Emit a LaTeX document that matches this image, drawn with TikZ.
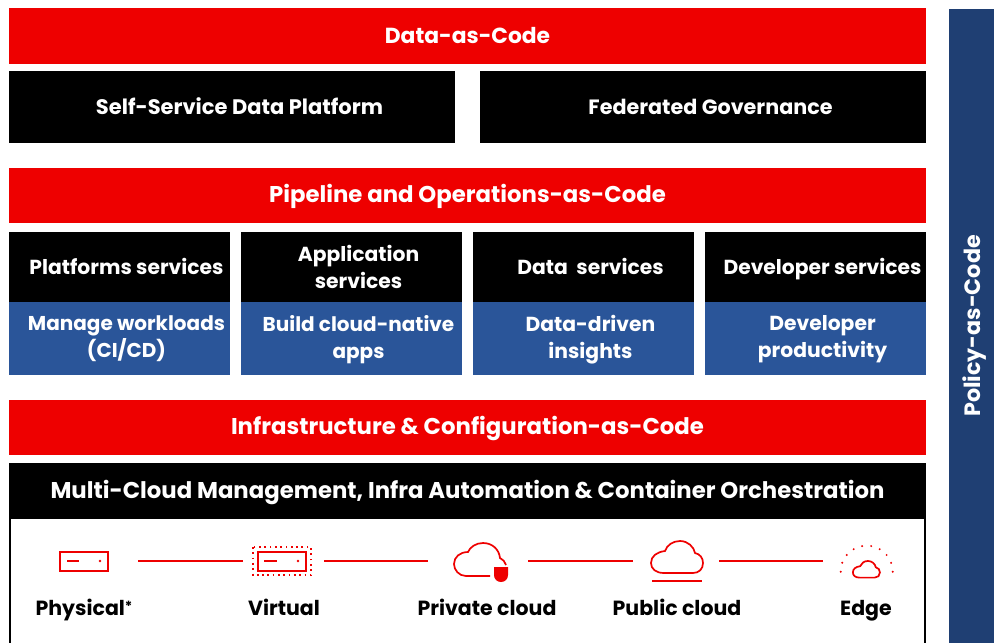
\documentclass[tikz,border=0pt]{standalone}
\usepackage{fontspec}
\setmainfont{Poppins}
\usepackage{xcolor}
\usetikzlibrary{positioning}
\definecolor{hatred}{HTML}{EE0000}
\definecolor{hatblue}{HTML}{2A5599}
\definecolor{hatnavy}{HTML}{1F3F73}
\newcommand{\hatfont}[1]{\fontsize{#1}{27}\selectfont\bfseries}
\tikzset{
  fixline/.style={text depth=#1,execute at begin node={\rule{0pt}{18pt}}},
  banner/.style={fill=#1,text=white,font=\hatfont{22.8},inner sep=0pt,outer sep=0pt,align=center,fixline=4pt},
  svcbox/.style={fill=#1,inner sep=0pt,outer sep=0pt,minimum width=221pt},
  svclabel/.style={text=white,font=\hatfont{20.3},inner sep=0pt,align=center,fixline=4pt},
  iconspot/.style={minimum width=#1,minimum height=20pt,inner sep=0pt,outer sep=0pt},
  iconlabel/.style={text=black,font=\hatfont{20.5},inner sep=0pt,fixline=4pt},
  iconline/.style={draw=hatred,line width=1.7pt},
  connector/.style={draw=hatred,line width=1.4pt},
  cloudicon/.pic={
    \draw[iconline] (-13,16) .. controls (-21,16) and (-26,12) .. (-26,6)
      .. controls (-26,-1) and (-20,-5) .. (-12,-6)
      .. controls (-10,-12) and (-4,-16) .. (3,-16)
      .. controls (11,-16) and (17,-10) .. (18,-4)
      .. controls (23,-3) and (26,1) .. (26,6)
      .. controls (26,12) and (22,16) .. (16,16) -- cycle;
  }
}
\begin{document}
\begin{tikzpicture}[x=1pt,y=-1pt]
   \useasboundingbox (0,0) rectangle (994,643);
   \node[banner=hatred,font=\hatfont{21.8},minimum width=917pt,minimum height=56pt,anchor=north west] (datacode) at (9,8) {Data-as-Code};
   \node[banner=black,font=\hatfont{21},minimum width=446pt,minimum height=72pt,below right=7pt and 0pt of datacode.south west] (selfservice) {\hspace*{15pt}Self-Service Data Platform};
   \node[banner=black,font=\hatfont{20.7},minimum width=446pt,minimum height=72pt,below left=7pt and 0pt of datacode.south east] (governance) {\hspace*{15pt}Federated Governance};
   \node[banner=hatred,minimum width=917pt,minimum height=55pt,anchor=north west] (pipeline) at (9,168) {Pipeline and Operations-as-Code};

   \node[svcbox=black,minimum height=70pt,anchor=north west] (platforms) at (9,232) {};
   \node[svcbox=black,minimum height=70pt,right=11pt of platforms] (application) {};
   \node[svcbox=black,minimum height=70pt,right=11pt of application] (dataserv) {};
   \node[svcbox=black,minimum height=70pt,right=11pt of dataserv] (developer) {};
   \node[svcbox=hatblue,minimum height=73pt,below=0pt of platforms] (workloads) {};
   \node[svcbox=hatblue,minimum height=73pt,below=0pt of application] (cloudnative) {};
   \node[svcbox=hatblue,minimum height=73pt,below=0pt of dataserv] (insights) {};
   \node[svcbox=hatblue,minimum height=73pt,below=0pt of developer] (productivity) {};

   \node[svclabel] (platformstext) at ([xshift=7pt]platforms.center) {Platforms services};
   \node[svclabel] (applicationtext) at ([xshift=7pt,yshift=-2pt]application.center) {Application\\services};
   \node[svclabel] (dataservtext) at ([xshift=7pt]dataserv.center) {Data\ \ services};
   \node[svclabel] (developertext) at ([xshift=7pt]developer.center) {Developer services};
   \node[svclabel,font=\hatfont{20}] (workloadstext) at ([xshift=7pt]workloads.center) {Manage workloads\\(CI/CD)};
   \node[svclabel,font=\hatfont{20}] (cloudnativetext) at ([xshift=7pt]cloudnative.center) {Build cloud-native\\apps};
   \node[svclabel] (insightstext) at ([xshift=7pt]insights.center) {Data-driven\\insights};
   \node[svclabel] (productivitytext) at ([xshift=7pt]productivity.center) {Developer\\productivity};

   \node[banner=hatred,minimum width=917pt,minimum height=55pt,anchor=north west] (infra) at (9,400) {Infrastructure \& Configuration-as-Code};
   \node[banner=black,minimum width=917pt,minimum height=56pt,below=8pt of infra] (multicloud) {Multi-Cloud Management, Infra Automation \& Container Orchestration};
   \node[banner=hatnavy,font=\hatfont{22.2},fixline=0pt,rotate=90,minimum width=634pt,minimum height=45pt,anchor=north] (policy) at (949,326) {Policy-as-Code};

   \draw[line width=1.6pt] ([xshift=1pt]multicloud.south west) -- ++(0,124);
   \draw[line width=1.6pt] ([xshift=-1pt]multicloud.south east) -- ++(0,124);

   \node[iconspot=108pt] (physical) at (84,561) {};
   \node[iconspot=81pt] (virtual) at (283.5,561) {};
   \node[iconspot=100pt] (private) at (478,561) {};
   \node[iconspot=86pt] (public) at (676,561) {};
   \node[iconspot=86pt] (edgecloud) at (866,561) {};

   \path[connector]
    (physical) edge (virtual)
    (virtual) edge (private)
    (private) edge (public)
    (public) edge (edgecloud);

   \draw[iconline] (60,552) rectangle (108,571);
   \draw[iconline] (67,561) -- (79,561);
   \fill[hatred] (100,561) circle (1.3);
   \draw[iconline] (258,552) rectangle (306,571);
   \draw[iconline] (264,561) -- (277,561);
   \fill[hatred] (298,561) circle (1.3);
   \draw[hatred,line width=1.7pt,dash pattern=on 1.7pt off 3.6pt] (253,547) rectangle (311,575);

   \draw[iconline] (490,576) -- (466,576) .. controls (459,576) and (454,570) .. (454,564)
     .. controls (454,557) and (460,552) .. (468,552)
     .. controls (470,547) and (476,543) .. (483,543)
     .. controls (492,543) and (499,549) .. (500,558)
     .. controls (503,559) and (505,562) .. (506,565);
   \fill[hatred] (494,567) -- (508,567) -- (508,575) .. controls (508,579) and (505,582) .. (501,582)
     .. controls (497,582) and (494,579) .. (494,575) -- cycle;

   \pic at (677,557) {cloudicon};
   \draw[iconline] (652,581) -- (702,581);

   \pic[scale=0.52] at (866.4,569.3) {cloudicon};
   \foreach \ang in {0,20,...,180}
     \fill[hatred,shift={(866.7,571.7)}] (-\ang:26) circle (1.1);

   \node[iconlabel] (physicaltext) at (84,608) {Physical\raisebox{4pt}{\fontsize{14}{14}\selectfont *}};
   \node[iconlabel] (virtualtext) at (284,608) {Virtual};
   \node[iconlabel] (privatetext) at (487,608) {Private cloud};
   \node[iconlabel] (publictext) at (677,608) {Public cloud};
   \node[iconlabel] (edgetext) at (866,608) {Edge};
\end{tikzpicture}
\end{document}
